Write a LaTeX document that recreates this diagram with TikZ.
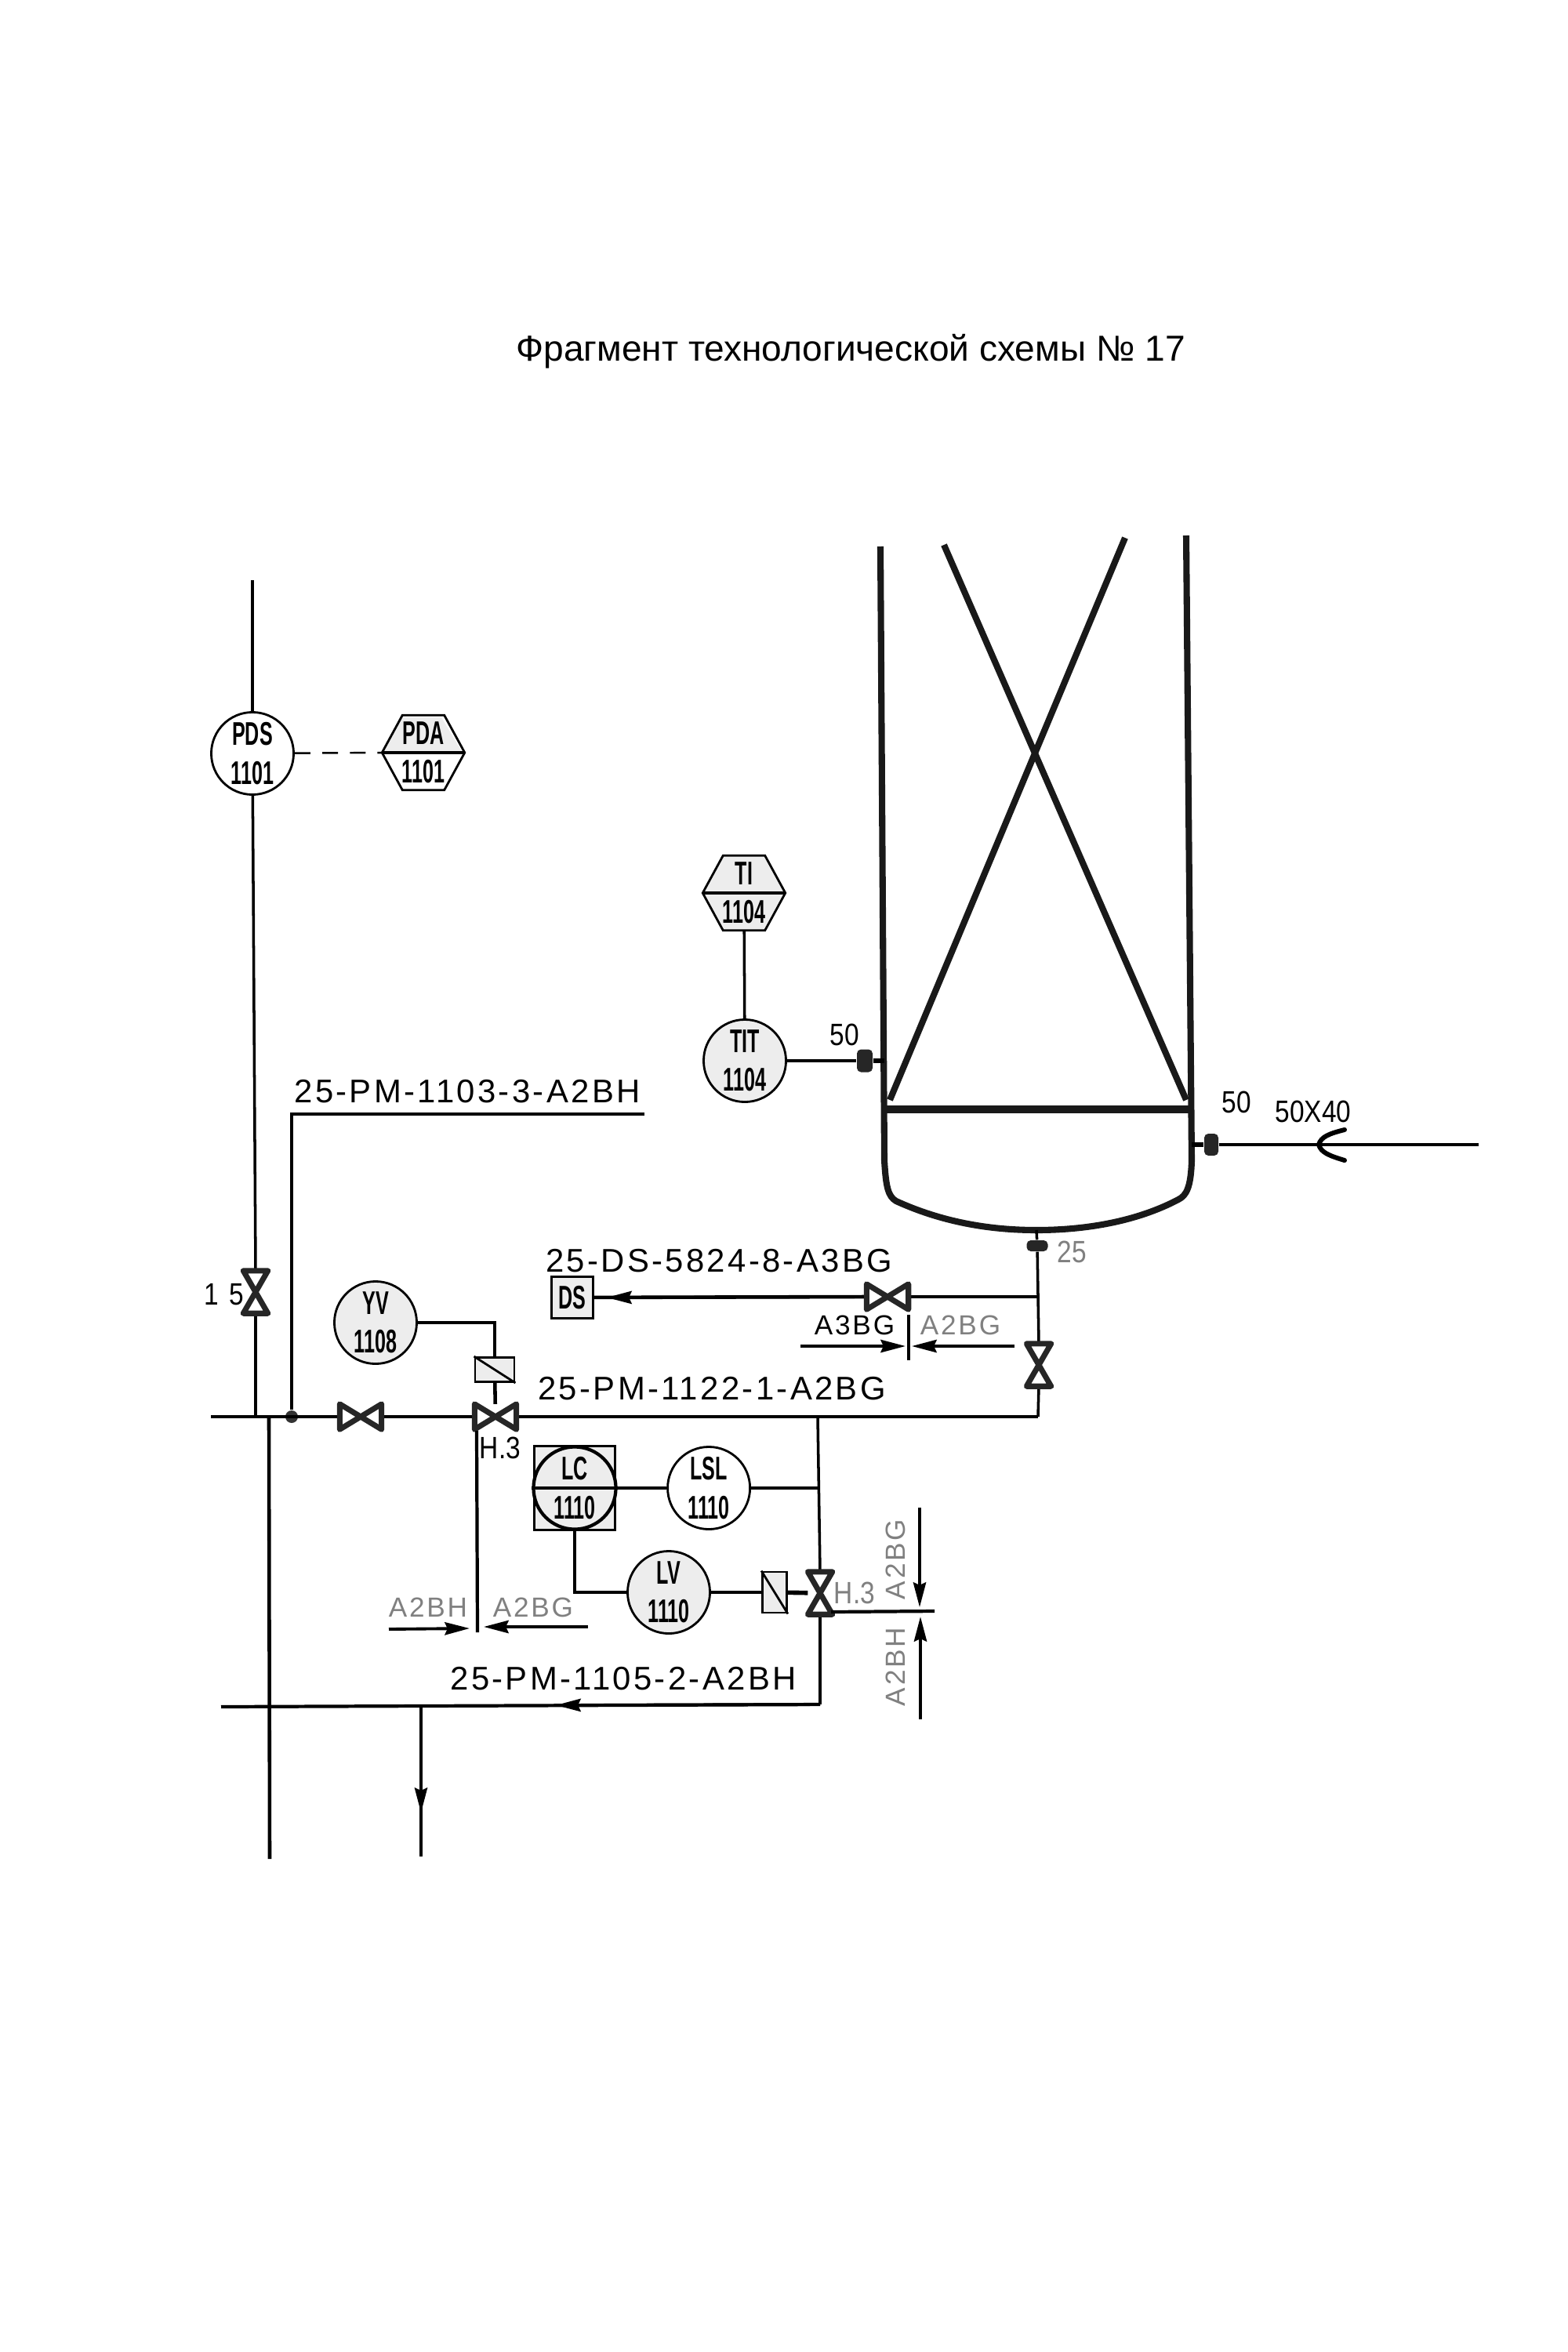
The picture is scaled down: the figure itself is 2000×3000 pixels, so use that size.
\documentclass[tikz,border=0pt]{standalone}
\usepackage{fontspec}
\setmainfont{Liberation Sans}
\newfontfamily\bubblefont[FakeStretch=0.6]{Liberation Sans}
\newfontfamily\linefont[LetterSpace=8]{Liberation Sans}
\newfontfamily\narrowfont[FakeStretch=0.85]{Liberation Sans}
\usepackage{tikz}
\usetikzlibrary{arrows.meta,positioning}
\definecolor{shadegray}{gray}{0.93}
\tikzset{
  pipeedge/.style   = {black, line width=1pt},
  signaledge/.style = {black, line width=1.3pt},
  flowedge/.style   = {black, line width=1.1pt, -{Stealth[length=9pt,width=4.6pt,inset=1pt]}},
  dashedge/.style   = {black, line width=.7pt, dash pattern=on 5.7pt off 4.3pt},
  wall/.style       = {black!90, line width=2.3pt},
  bubble/.style     = {circle, draw, line width=.8pt, inner sep=0pt, minimum size=1.05cm, align=center,
                       font=\fontsize{11.9}{14}\bubblefont\bfseries},
  shaded/.style     = {fill=shadegray},
  hexnode/.style    = {inner sep=0pt, minimum width=1.04cm, minimum height=.94cm, align=center,
                       font=\fontsize{11.9}{14}\bubblefont\bfseries},
  vvalve/.style     = {inner sep=0pt, minimum width=.30cm, minimum height=.53cm},
  hvalve/.style     = {inner sep=0pt, minimum width=.52cm, minimum height=.31cm},
  valveline/.style  = {draw=black!85, fill=white, line width=2pt, line join=round},
  actbox/.style     = {draw, fill=shadegray, line width=.8pt, inner sep=0pt},
  flange/.style     = {fill=black!85, inner sep=0pt, rounded corners=1.5pt},
  pipetext/.style   = {inner sep=0pt, text height=8.5pt, text depth=0pt, font=\fontsize{11.9}{14}\linefont},
  smalltext/.style  = {inner sep=0pt, text height=7.2pt, text depth=0pt, font=\fontsize{10}{12}\linefont},
  numtext/.style    = {inner sep=0pt, text height=8pt, text depth=0pt, font=\fontsize{11.2}{14}\narrowfont},
  faint/.style      = {text=black!50},
}
\newcommand{\vbody}[1]{\draw[valveline] (#1.north west) -- (#1.north east) -- (#1.south west) -- (#1.south east) -- cycle;}
\newcommand{\hbody}[1]{\draw[valveline] (#1.north west) -- (#1.south east) -- (#1.north east) -- (#1.south west) -- cycle;}
\newcommand{\hexbody}[2]{\draw[line width=.8pt, fill=#2] (#1.west) -- ([xshift=.26cm]#1.north west) -- ([xshift=-.26cm]#1.north east) -- (#1.east) -- ([xshift=-.26cm]#1.south east) -- ([xshift=.26cm]#1.south west) -- cycle;}

\begin{document}
\begin{tikzpicture}[x=0.01cm,y=-0.01cm]
      \useasboundingbox (0,0) rectangle (2000,3000);
      \fill[white] (0,0) rectangle (2000,3000);

      \node [anchor=base, font=\fontsize{13.1}{15}\selectfont] (title) at (1085,460) {Фрагмент технологической схемы № 17};

      % column
      \draw [wall, line join=round] (1123,697) -- (1128,1480) .. controls (1130,1515) and (1133,1526) .. (1143,1532)
          .. controls (1200,1558) and (1260,1569) .. (1322,1569)
          .. controls (1385,1569) and (1450,1558) .. (1503,1530)
          .. controls (1513,1525) and (1519,1515) .. (1520,1480) -- (1513,683);
      \draw [wall] (1204,695) -- (1513,1403);
      \draw [wall] (1435,686) -- (1135,1403);
      \draw [wall, line width=2.7pt] (1128,1415) -- (1519,1415);
      \coordinate (wallw) at (1128,1353);
      \coordinate (walle) at (1520,1460);
      \coordinate (bottom) at (1322,1569);

      % instruments
      \node [bubble] (pds) at (322,961) {PDS\\1101};
      \fill [shadegray] (513,915) -- (563,915) -- (590,960) -- (489,960) -- cycle;
      \node [hexnode] (pda) at (540,960) {};
      \hexbody{pda}{none}
      \draw [line width=1.2pt] (pda.west) -- (pda.east);
      \node [hexnode] at (540,960) {PDA\\1101};
      \node [bubble, shaded] (tit) at (950,1353) {TIT\\1104};
      \node [hexnode] (ti) at (949,1139) {};
      \hexbody{ti}{shadegray}
      \draw [line width=1.2pt] (ti.west) -- (ti.east);
      \node [hexnode] at (949,1139) {TI\\1104};
      \node [bubble, shaded] (yv) at (479,1687) {YV\\1108};
      \node [actbox, minimum width=1.03cm, minimum height=1.07cm] (lcbox) at (733,1898) {};
      \node [bubble, shaded, line width=1.2pt] (lc) at (733,1898) {LC\\1110};
      \path (lc.west) edge[signaledge, line width=1pt] (lc.east);
      \node [bubble, right of=lc, node distance=1.71cm] (lsl) {LSL\\1110};
      \node [bubble, shaded] (lv) at (853,2031) {LV\\1110};
      \node [actbox, minimum size=.53cm, font=\fontsize{11.9}{14}\bubblefont\bfseries] (ds) at (730,1655) {DS};

      % valves
      \node [vvalve] (v15) at (326,1648) {};
      \node [hvalve] (vh1) at (460,1807) {};
      \node [hvalve] (vh2) at (632,1807) {};
      \node [vvalve] (vlv) at (1046,2032) {};
      \node [hvalve] (vds) at (1132,1654) {};
      \node [vvalve] (vbot) at (1325,1741) {};
      \node [actbox, minimum width=.5cm, minimum height=.31cm] (acty) at (631,1747) {};
      \node [actbox, minimum width=.31cm, minimum height=.52cm] (actl) at (988,2031) {};
      \draw [line width=.8pt] (acty.north west) -- (acty.south east);
      \draw [line width=.8pt] (actl.north west) -- (actl.south east);
      \node [flange, minimum width=.2cm, minimum height=.29cm] (flw) at (1103,1353) {};
      \node [flange, minimum width=.18cm, minimum height=.28cm] (fle) at (1545,1460) {};
      \node [flange, minimum width=.27cm, minimum height=.14cm] (flb) at (1323,1589) {};
      \node [circle, fill=black!80, inner sep=0pt, minimum size=.16cm] (dot) at (372,1807) {};

      % free ends and tees
      \coordinate (ptop) at (322,740);
      \coordinate (hdrw) at (269,1807);
      \coordinate (tee15) at (326,1807);
      \coordinate (tee343) at (343,1807);
      \coordinate (hdre) at (1324,1807);
      \coordinate (tee1043) at (1043,1807);
      \coordinate (teelsl) at (1043,1898);
      \coordinate (dsend) at (1324,1654);
      \coordinate (ln1103) at (822,1421);
      \coordinate (tail343) at (344,2371);
      \coordinate (retcorner) at (1046,2174);
      \coordinate (retarrow) at (709,2175);
      \coordinate (retw) at (282,2177);
      \coordinate (tee537) at (537,2177);
      \coordinate (droparrow) at (537,2312);
      \coordinate (dropend) at (537,2368);
      \coordinate (dsarrow) at (774,1655);
      \coordinate (feedend) at (1886,1460);

      % lines
      \path (ptop) edge[pipeedge] (pds);
      \path (pds) edge[pipeedge] (v15.north);
      \path (v15.south) edge[pipeedge] (tee15);
      \path (pds) edge[dashedge] (pda.west);
      \path (hdrw) edge[pipeedge] (vh1.west);
      \path (vh1.east) edge[pipeedge] (vh2.west);
      \path (vh2.east) edge[pipeedge] (hdre);
      \path (hdre) edge[pipeedge] (vbot.south);
      \path (vbot.north) edge[pipeedge] (flb);
      \path (flb) edge[pipeedge] (bottom);
      \draw [pipeedge, line width=1.2pt] (ln1103) -| (dot);
      \path (tee343) edge[pipeedge, line width=1.3pt] (tail343);
      \path (ti) edge[pipeedge] (tit);
      \path (tit) edge[signaledge] (flw);
      \path (flw) edge[signaledge, line width=1.6pt] (wallw);
      \path (walle) edge[signaledge, line width=1.6pt] (fle);
      \path (fle) edge[pipeedge] (feedend);
      \draw [line width=1.7pt, line cap=round] (1715,1441) .. controls (1695,1446) and (1685,1450) .. (1682,1460)
          .. controls (1685,1470) and (1695,1474) .. (1715,1480);
      \draw [signaledge] (yv.east) -| (acty.north);
      \path (acty) edge[signaledge] (vh2);
      \path (lc) edge[signaledge] (lsl);
      \path (lsl) edge[signaledge] (teelsl);
      \path (tee1043) edge[pipeedge] (vlv.north);
      \path (vlv.south) edge[pipeedge] (retcorner);
      \draw [signaledge] (lcbox.south) |- (lv.west);
      \path (lv) edge[signaledge] (actl);
      \path (actl) edge[signaledge, line width=1.6pt] (vlv);
      \path (ds) edge[pipeedge, line width=1.3pt] (vds.west);
      \path (vds.west) edge[flowedge] (dsarrow);
      \path (dsend) edge[pipeedge] (vds.east);
      \path (retcorner) edge[flowedge] (retarrow);
      \path (retcorner) edge[pipeedge, line width=1.2pt] (retw);
      \path (tee537) edge[pipeedge] (dropend);
      \path (tee537) edge[flowedge, line width=1pt] (droparrow);

      \vbody{v15}
      \hbody{vh1}
      \hbody{vh2}
      \vbody{vlv}
      \hbody{vds}
      \vbody{vbot}

      % line class marks
      \coordinate (drainTop) at (608,1825);
      \coordinate (drainEnd) at (609,2082);
      \coordinate (drainL) at (496,2078);
      \coordinate (drainR) at (750,2075);
      \coordinate (tipL) at (599,2077);
      \coordinate (tipR) at (617,2075);
      \path (drainTop) edge[pipeedge, line width=1.2pt] (drainEnd);
      \path (drainL) edge[flowedge] (tipL);
      \path (drainR) edge[flowedge] (tipR);

      \coordinate (dsmarkL) at (1021,1717);
      \coordinate (dsmarkR) at (1294,1717);
      \coordinate (dstipL) at (1155,1717);
      \coordinate (dstipR) at (1163,1717);
      \coordinate (dstickT) at (1159,1677);
      \coordinate (dstickB) at (1159,1735);
      \path (dsmarkL) edge[flowedge] (dstipL);
      \path (dsmarkR) edge[flowedge] (dstipR);
      \path (dstickT) edge[pipeedge] (dstickB);

      \coordinate (lvstart) at (1060,2056);
      \coordinate (lvtail) at (1192,2055);
      \coordinate (vtop) at (1173,1923);
      \coordinate (vbottom) at (1174,2193);
      \coordinate (vtipT) at (1173,2050);
      \coordinate (vtipB) at (1174,2062);
      \path (lvstart) edge[pipeedge, line width=1.2pt] (lvtail);
      \path (vtop) edge[flowedge] (vtipT);
      \path (vbottom) edge[flowedge] (vtipB);

      % labels
      \node [pipetext] (t1103) at (596,1392) {25-PM-1103-3-A2BH};
      \node [pipetext] (t5824) at (917,1608) {25-DS-5824-8-A3BG};
      \node [pipetext] (t1122) at (908,1771) {25-PM-1122-1-A2BG};
      \node [pipetext] (t1105) at (795,2141) {25-PM-1105-2-A2BH};
      \node [numtext] (t15) at (286,1650) {1\,\,5};
      \node [numtext] (th1) at (638,1846) {H.3};
      \node [numtext, faint] (th2) at (1090,2031) {H.3};
      \node [numtext] (t50a) at (1077,1319) {50};
      \node [numtext] (t50b) at (1577,1405) {50};
      \node [numtext] (t50c) at (1675,1417) {50X40};
      \node [numtext, faint] (t25) at (1367,1596) {25};
      \node [smalltext] (ta3bg) at (1090,1690) {A3BG};
      \node [smalltext, faint] (ta2bg) at (1225,1690) {A2BG};
      \node [smalltext, faint] (ta2bh) at (546,2050) {A2BH};
      \node [smalltext, faint] (ta2bgb) at (680,2050) {A2BG};
      \node [smalltext, faint, rotate=90] (tva2bg) at (1142,1989) {A2BG};
      \node [smalltext, faint, rotate=90] (tva2bh) at (1142,2126) {A2BH};
\end{tikzpicture}
\end{document}
